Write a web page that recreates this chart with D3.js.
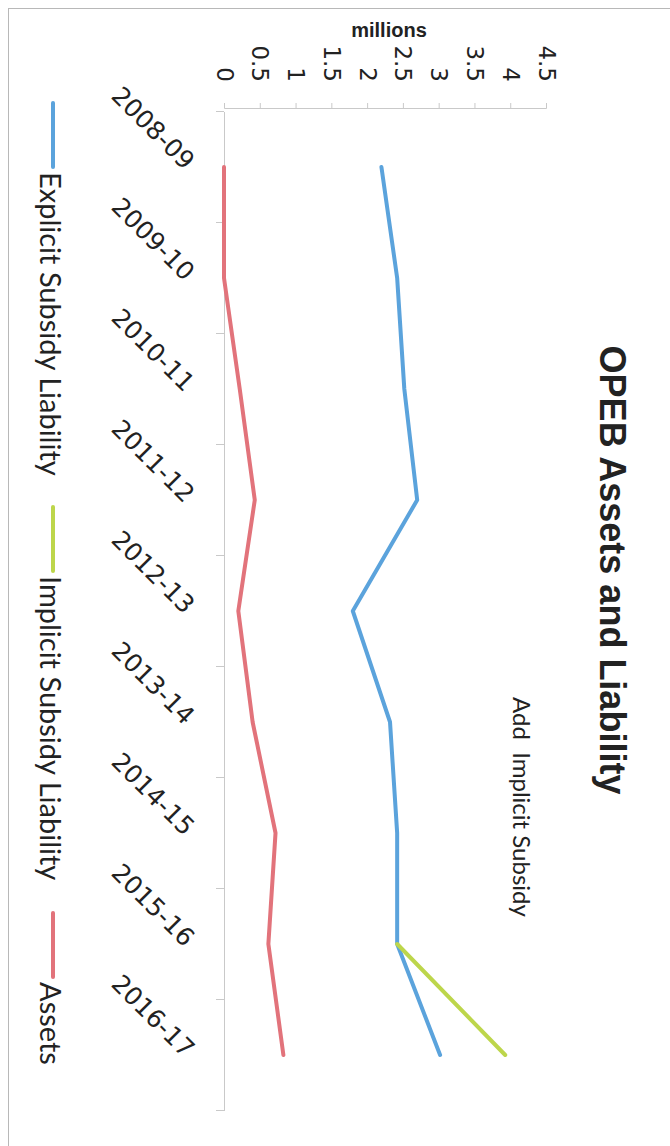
<!DOCTYPE html>
<html>
<head>
<meta charset="utf-8">
<script src="https://cdn.jsdelivr.net/npm/d3@7"></script>
<style>
  html, body { margin: 0; padding: 0; background: #fff; }
  svg { display: block; }
</style>
</head>
<body>
<script>
// Fiscal years shown down the category axis
const years = ["2008-09", "2009-10", "2010-11", "2011-12", "2012-13",
               "2013-14", "2014-15", "2015-16", "2016-17"];
// Values in millions
const explicitLiability = [2.2, 2.42, 2.52, 2.7, 1.8, 2.32, 2.42, 2.42, 3.02];
const implicitLiability = [null, null, null, null, null, null, null, 2.42, 3.93];
const assets = [0, 0, 0.22, 0.43, 0.2, 0.4, 0.72, 0.62, 0.83];
const valueTicks = [0, 0.5, 1, 1.5, 2, 2.5, 3, 3.5, 4, 4.5];
const tickLabels = ["0", "0.5", "1", "1.5", "2", "2.5", "3", "3.5", "4", "4.5"];

const series = [
  { name: "Explicit Subsidy Liability", values: explicitLiability, color: "#5ba3dc" },
  { name: "Implicit Subsidy Liability", values: implicitLiability, color: "#bdd64b" },
  { name: "Assets", values: assets, color: "#e2737b" }
];

const W = 670, H = 1146;
const svg = d3.select("body").append("svg").attr("width", W).attr("height", H);

// Chart frame (left and top edges)
svg.append("line").attr("x1", 8.5).attr("x2", 8.5).attr("y1", 8).attr("y2", H)
  .attr("stroke", "#b8b8b8").attr("stroke-width", 1);
svg.append("line").attr("x1", 8).attr("x2", W).attr("y1", 8.5).attr("y2", 8.5)
  .attr("stroke", "#b8b8b8").attr("stroke-width", 1);

// The chart is laid out turned a quarter turn: categories run downward, values run rightward
const y = d3.scaleBand().domain(years).range([111.5, 1110.5]);
const yc = d => y(d) + y.bandwidth() / 2;
const x = d3.scaleLinear().domain([0, 4.5]).range([224, 546]);

const axisColor = "#c9c9c9";
const tickFont = "'DejaVu Sans', sans-serif";

// Value axis along the top
const xAxis = svg.append("g").attr("transform", "translate(0,108)")
  .call(d3.axisTop(x).tickValues(valueTicks).tickSize(5).tickFormat((d, i) => tickLabels[i]));
xAxis.select(".domain").attr("stroke", axisColor);
xAxis.selectAll(".tick line").attr("stroke", axisColor);
xAxis.selectAll(".tick text")
  .attr("transform", "translate(0,-26) rotate(90)")
  .attr("x", 0).attr("y", 0).attr("dy", null)
  .attr("text-anchor", "end")
  .attr("dominant-baseline", "central")
  .attr("font-family", tickFont).attr("font-size", 23).attr("fill", "#222");

// Display unit label
svg.append("text").attr("x", 389).attr("y", 37).attr("text-anchor", "middle")
  .attr("font-family", "'Liberation Sans', Arial, sans-serif").attr("font-weight", "bold")
  .attr("font-size", 20).attr("fill", "#222").text("millions");

// Category axis along the left of the plot
const yAxis = svg.append("g").attr("transform", "translate(224,0)")
  .call(d3.axisLeft(y).tickSize(0).tickFormat(""));
yAxis.select(".domain").attr("stroke", axisColor);
// Tick marks sit on the band boundaries
const bounds = years.map(d => y(d)).concat([y.range()[1]]);
yAxis.selectAll(".bound").data(bounds).enter().append("line").attr("class", "bound")
  .attr("x1", -8).attr("x2", 0).attr("y1", d => d).attr("y2", d => d)
  .attr("stroke", axisColor);

// Slanted category labels
svg.append("g").selectAll("text").data(years).enter().append("text")
  .attr("transform", d => `translate(190,${yc(d) - 2}) rotate(45)`)
  .attr("text-anchor", "end").attr("dominant-baseline", "central")
  .attr("font-family", tickFont).attr("font-size", 25).attr("fill", "#222")
  .text(d => d);

// Series lines
const line = d3.line()
  .defined(d => d.v !== null)
  .x(d => x(d.v)).y(d => yc(d.year));

series.forEach(s => {
  const pts = years.map((yr, i) => ({ year: yr, v: s.values[i] }));
  svg.append("path").datum(pts)
    .attr("d", line).attr("fill", "none")
    .attr("stroke", s.color).attr("stroke-width", 4)
    .attr("stroke-linecap", "round").attr("stroke-linejoin", "round");
});

// Title and subtitle
svg.append("text").attr("transform", "translate(612,570) rotate(90)")
  .attr("text-anchor", "middle").attr("dominant-baseline", "central")
  .attr("font-family", "'Liberation Sans', Arial, sans-serif").attr("font-weight", "bold")
  .attr("font-size", 36).attr("fill", "#222").text("OPEB Assets and Liability");

svg.append("text").attr("transform", "translate(522,697) rotate(90)")
  .attr("text-anchor", "start").attr("dominant-baseline", "central")
  .attr("font-family", "Lato, sans-serif")
  .attr("font-size", 24).attr("fill", "#222").attr("xml:space", "preserve")
  .text("Add  Implicit Subsidy");

// Legend down the left side
const legendStarts = [103, 507, 913];
const legend = svg.append("g");
series.forEach((s, i) => {
  const y0 = legendStarts[i];
  legend.append("line").attr("x1", 53).attr("x2", 53).attr("y1", y0).attr("y2", y0 + 64)
    .attr("stroke", s.color).attr("stroke-width", 4).attr("stroke-linecap", "round");
  legend.append("text").attr("transform", `translate(51,${y0 + 69}) rotate(90)`)
    .attr("text-anchor", "start").attr("dominant-baseline", "central")
    .attr("font-family", "Lato, sans-serif").attr("font-size", 29).attr("fill", "#222")
    .text(s.name);
});
</script>
</body>
</html>
